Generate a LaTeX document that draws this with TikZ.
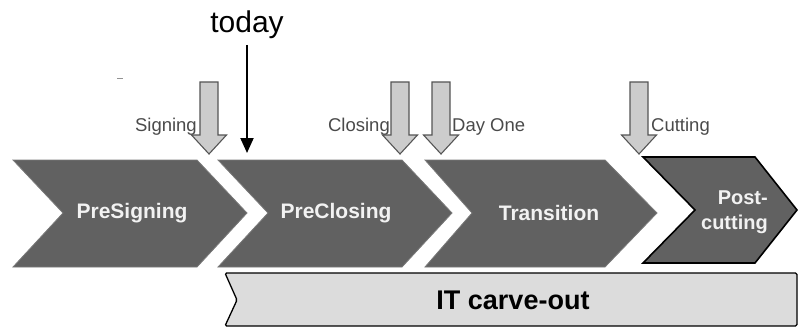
\documentclass[tikz,border=0pt]{standalone}
\usepackage{fontspec}
\setmainfont{Liberation Sans}
\usetikzlibrary{arrows.meta}
\definecolor{chevfill}{HTML}{616161}
\definecolor{chevline}{HTML}{7A7A7A}
\definecolor{blkfill}{HTML}{CCCCCC}
\definecolor{blkline}{HTML}{555555}
\definecolor{lblgray}{HTML}{4A4A4A}
\definecolor{itfill}{HTML}{DCDCDC}
\tikzset{
  chev/.style={fill=chevfill, draw=chevline, line width=0.8pt, line join=miter},
  chevlast/.style={fill=chevfill, draw=black, line width=1.6pt, line join=miter},
  chevtext/.style={text=white!95!black, font=\bfseries\fontsize{21}{24}\selectfont, inner sep=0pt},
  blk/.style={fill=blkfill, draw=blkline, line width=1.1pt, line join=miter},
  evtext/.style={text=lblgray, font=\fontsize{18.5}{21}\selectfont, inner sep=0pt},
  itbox/.style={fill=itfill, draw=black, line width=1.3pt, rounded corners=1.5pt},
}
\newcommand{\blockarrow}[1]{%
  \path[blk] (#1-9,82) -- (#1+9,82) -- (#1+9,135) -- (#1+17.5,135) -- (#1,154)
    -- (#1-17.5,135) -- (#1-9,135) -- cycle;}
\begin{document}
\begin{tikzpicture}[x=1pt,y=-1pt]
\useasboundingbox (0,0) rectangle (798,329);
% chevrons
\path[chev] (13,160) -- (197,160) -- (247,213) -- (197,267) -- (13,267) -- (63,213) -- cycle;
\path[chev] (218,160) -- (402,160) -- (452,213) -- (402,267) -- (218,267) -- (268,213) -- cycle;
\path[chev] (425,160) -- (605,160) -- (657,213) -- (605,267) -- (425,267) -- (472,213) -- cycle;
\path[chevlast] (643,157) -- (755,157) -- (797,210) -- (755,263) -- (643,263) -- (695,210) -- cycle;
\node[chevtext] (presign) at (132,213) {PreSigning};
\node[chevtext] (preclose) at (336,213) {PreClosing};
\node[chevtext] (trans) at (549,213) {Transition};
\node[chevtext, align=right, font=\bfseries\fontsize{20}{25}\selectfont, anchor=east] (post) at (768,212) {Post-\\cutting};
% IT carve-out
\path[itbox] (225,273) -- (797,273) -- (797,326) -- (225,326) -- (237,300) -- cycle;
\node[font=\bfseries\fontsize{27}{30}\selectfont, inner sep=0pt] (it) at (513,300) {IT carve-out};
% event arrows
\blockarrow{209}
\blockarrow{400}
\blockarrow{441}
\blockarrow{639}
\node[evtext, anchor=base east] (sign) at (197,131) {Signing};
\node[evtext, anchor=base east] (close) at (390,131) {Closing};
\node[evtext, anchor=base west] (dayone) at (452,131) {Day One};
\node[evtext, anchor=base west] (cut) at (651,131) {Cutting};
% today
\node[font=\fontsize{30}{34}\selectfont, inner sep=0pt, anchor=base] (today) at (247,33) {today};
\coordinate (todayend) at (247,153);
\draw[line width=2pt, -{Triangle[length=15pt,width=13pt]}] (247,45) -- (todayend);
% stray mark
\draw[lblgray!60, line width=1pt] (117,79) -- (123,79);
\end{tikzpicture}
\end{document}
